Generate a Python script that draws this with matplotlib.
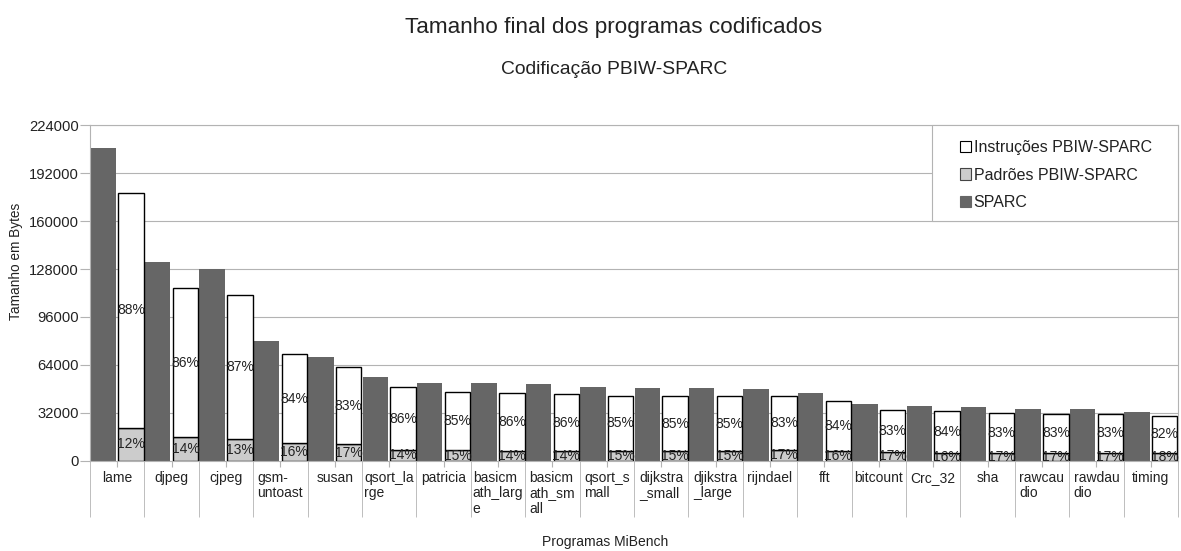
import matplotlib
matplotlib.use("Agg")
import matplotlib.pyplot as plt
from matplotlib.patches import Rectangle, Patch
import numpy as np

plt.rcParams['font.family'] = ['Liberation Sans', 'DejaVu Sans']

categories = ["lame", "djpeg", "cjpeg", "gsm-\nuntoast", "susan", "qsort_la\nrge",
              "patricia", "basicm\nath_larg\ne", "basicm\nath_sm\nall", "qsort_s\nmall",
              "dijkstra\n_small", "djikstra\n_large", "rijndael", "fft", "bitcount",
              "Crc_32", "sha", "rawcau\ndio", "rawdau\ndio", "timing"]

sparc = [208900, 132700, 128000, 79950, 69260, 55900, 51900, 51900, 51230, 49230,
         48560, 48560, 47890, 45220, 37870, 36530, 35870, 34530, 34530, 32530]
padroes = [22040, 16030, 14290, 11620, 10950, 6950, 6850, 6330, 6260, 6480,
           6450, 6450, 7350, 6380, 5760, 5280, 5450, 5300, 5300, 5370]
instrucoes = [156560, 99070, 96160, 59440, 51430, 42070, 38830, 38890, 38490, 36730,
              36560, 36560, 35860, 33490, 28100, 27710, 26610, 25890, 25890, 24490]
pct_padroes = [12, 14, 13, 16, 17, 14, 15, 14, 14, 15, 15, 15, 17, 16, 17, 16, 17, 17, 17, 18]
pct_instrucoes = [88, 86, 87, 84, 83, 86, 85, 86, 86, 85, 85, 85, 83, 84, 83, 84, 83, 83, 83, 82]
yticks = [0, 32000, 64000, 96000, 128000, 160000, 192000, 224000]

TXT = '#222222'
GRID = '#b3b3b3'

fig = plt.figure(figsize=(11.81, 5.51), dpi=100)
ax = fig.add_axes([90/1181, 1 - 460.7/551, 1088/1181, 335.4/551])

x = np.arange(len(categories))
w = 0.467
off = 0.255
ax.bar(x - off, sparc, w, color='#666666', zorder=2)
ax.bar(x + off, padroes, w, color='#cccccc', edgecolor='black', linewidth=1.0, zorder=2)
ax.bar(x + off, instrucoes, w, bottom=padroes, color='white', edgecolor='black',
       linewidth=1.0, zorder=2)

for i in range(len(categories)):
    ax.text(x[i] + off, padroes[i] / 2, f"{pct_padroes[i]}%", ha='center', va='center',
            fontsize=10, color=TXT, zorder=4)
    ax.text(x[i] + off, padroes[i] + instrucoes[i] / 2, f"{pct_instrucoes[i]}%",
            ha='center', va='center', fontsize=10, color=TXT, zorder=4)

ax.set_xlim(-0.5, len(categories) - 0.5)
ax.set_ylim(0, 224000)
ax.set_yticks(yticks)
ax.set_yticklabels([str(v) for v in yticks])
ax.yaxis.grid(True, color=GRID, linewidth=0.8, zorder=0)
ax.set_axisbelow(True)

ax.set_xticks(x)
ax.set_xticklabels(categories, multialignment='left', linespacing=1.15)
ax.set_xticks(np.arange(-0.5, len(categories)), minor=True)
ax.tick_params(axis='x', which='major', length=4.3, color=GRID, pad=3,
               labelsize=10, labelcolor=TXT)
ax.tick_params(axis='x', which='minor', length=40, color=GRID)
ax.tick_params(axis='y', length=7, color=GRID, pad=1, labelsize=10.6, labelcolor=TXT)

for s in ax.spines.values():
    s.set_color(GRID)
    s.set_linewidth(0.8)

# legend box
lx0 = (932 - 90) / 1088
ly0 = (460.7 - 221) / 335.4
ax.add_patch(Rectangle((lx0, ly0), 1 - lx0, 1 - ly0, transform=ax.transAxes,
                       facecolor='white', edgecolor=GRID, linewidth=0.8, zorder=5,
                       clip_on=False))
handles = [Patch(facecolor='white', edgecolor='black', linewidth=0.8),
           Patch(facecolor='#cccccc', edgecolor='#444444', linewidth=0.8),
           Patch(facecolor='#666666', edgecolor='#666666', linewidth=0.8)]
labels = ["Instruções PBIW-SPARC", "Padrões PBIW-SPARC", "SPARC"]
leg = ax.legend(handles, labels, loc='upper left',
                bbox_to_anchor=((960 - 90) / 1088, 1 - 14.5 / 335.4),
                frameon=False, fontsize=11.5, handlelength=0.7, handleheight=0.7,
                handletextpad=0.15, labelspacing=0.8, borderpad=0, borderaxespad=0)
leg.set_zorder(6)
for t in leg.get_texts():
    t.set_color(TXT)

fig.text(614 / 1181, 1 - 27 / 551, "Tamanho final dos programas codificados",
         ha='center', va='center', fontsize=16.2, color=TXT)
fig.text(614 / 1181, 1 - 70 / 551, "Codificação PBIW-SPARC",
         ha='center', va='center', fontsize=13.9, color=TXT)
fig.text(605 / 1181, 1 - 542 / 551, "Programas MiBench",
         ha='center', va='center', fontsize=10, color=TXT)
fig.text(16 / 1181, 1 - 261 / 551, "Tamanho em Bytes", rotation=90,
         ha='center', va='center', fontsize=9.8, color=TXT)

fig.savefig("out.png", dpi=100)
